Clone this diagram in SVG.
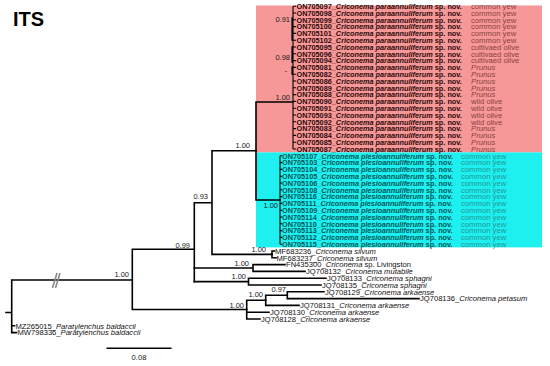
<svg xmlns="http://www.w3.org/2000/svg" width="550" height="366" viewBox="0 0 550 366">
<style>
.bg{fill:#ffffff}
.br{fill:none;stroke:#000;stroke-width:1.6;stroke-linecap:square}
.thin{fill:none;stroke:#000;stroke-width:1.1}
.brk{fill:none;stroke:#8a8a8a;stroke-width:1.6}
.pk{font-family:"Liberation Sans",Arial,sans-serif;font-weight:bold;font-size:7.3px;fill:#2e0a0a}
.pkh{font-family:"Liberation Sans",Arial,sans-serif;font-size:7.7px;fill:#8a4040}
.cy{font-family:"Liberation Sans",Arial,sans-serif;font-weight:bold;font-size:7.3px;fill:#005656}
.cyh{font-family:"Liberation Sans",Arial,sans-serif;font-size:7.7px;fill:#229696}
.lf{font-family:"Liberation Sans",Arial,sans-serif;font-size:7.6px;fill:#111}
.it{font-style:italic}
.sup{font-family:"Liberation Sans",Arial,sans-serif;font-size:7.5px;fill:#222;text-anchor:end}
.ttl{font-family:"Liberation Sans",Arial,sans-serif;font-weight:bold;font-size:20px;fill:#000}
</style>
<rect class="bg" x="0" y="0" width="550" height="366"/>
<text class="ttl" x="13" y="26">ITS</text>

<g id="clade-boxes">
<rect x="256" y="5.5" width="286" height="147" fill="#f79898"/>
<rect x="256" y="152.4" width="286" height="95" fill="#1ef0f0"/>
</g>

<g id="connectors">
<path class="br" d="M6,312.5H11.7 M11.7,280V332.6 M11.7,325.8H14.5 M11.7,332.6H16.5 M11.7,280H132.3"/>
<path class="brk" d="M52.5,288L57,273 M55.5,288L60,273"/>
<path class="br" d="M132.3,249.3V309.5 M132.3,249.3H194.3 M132.3,309.5H246.7"/>
<path class="br" d="M194.3,202.7V281.6 M194.3,202.7H212 M212,150.7V254.4 M212,150.7H256 M212,254.4H272"/>
<path class="br" d="M272,251V257.8 M272,251H274.5 M272,257.8H276"/>
<path class="br" d="M256,102V200 M256,102H293 M256,200H280"/>
<path class="thin" d="M293,6.2V149 M280,155.8V244.2"/>
<path class="br" d="M292.2,18V40 M292.2,47V62 M292.2,67V74"/>
<path class="thin" d="M293,6.2H296 M293,13H296 M293,19.8H296 M293,26.6H296 M293,33.4H296 M293,40.2H296 M293,47H296 M293,53.8H296 M293,60.6H296 M293,67.4H296 M293,74.2H296 M293,81H296 M293,87.8H296 M293,94.6H296 M293,101.4H296 M293,108.2H296 M293,115H296 M293,121.8H296 M293,128.6H296 M293,135.4H296 M293,142.2H296 M293,149H296"/>
<path class="thin" d="M280,155.8H282 M280,162.6H282 M280,169.4H282 M280,176.2H282 M280,183H282 M280,189.8H282 M280,196.6H282 M280,203.4H282 M280,210.2H282 M280,217H282 M280,223.8H282 M280,230.6H282 M280,237.4H282 M280,244.2H282"/>
<path class="br" d="M194.3,268H253 M253,264.6V271.4 M253,264.6H285 M253,271.4H305"/>
<path class="br" d="M194.3,281.6H248.5 M248.5,278.2V285 M248.5,278.2H326 M248.5,285H321"/>
<path class="br" d="M246.7,300.3V319 M246.7,300.3H265.7 M246.7,312.2H269 M246.7,319H260"/>
<path class="br" d="M265.7,295.2V305.4 M265.7,295.2H287.3 M265.7,305.4H299"/>
<path class="br" d="M287.3,291.8V298.6 M287.3,291.8H324 M287.3,298.6H419"/>
<path class="br" d="M107.3,348.3H170.7"/>
</g>

<g id="support-values">
<text class="sup" x="290" y="21.5">0.91</text>
<text class="sup" x="290" y="60">0.98</text>
<text class="sup" x="287" y="73">-</text>
<text class="sup" x="290" y="100.4">1.00</text>
<text class="sup" x="250" y="148.4">1.00</text>
<text class="sup" x="278" y="208.4">1.00</text>
<text class="sup" x="208" y="199.4">0.93</text>
<text class="sup" x="190" y="247.7">0.99</text>
<text class="sup" x="266" y="252">1.00</text>
<text class="sup" x="249" y="266">1.00</text>
<text class="sup" x="246" y="279.4">1.00</text>
<text class="sup" x="286" y="292">0.97</text>
<text class="sup" x="263" y="297">1.00</text>
<text class="sup" x="244" y="307.7">1.00</text>
<text class="sup" x="129" y="277">1.00</text>
</g>

<g id="clade-paraannuliferum">
<g id="ON705097"><text class="pk" x="296.5" y="8.9">ON705097_<tspan class="it">Criconema paraannuliferum</tspan> sp. nov.</text><text class="pkh" x="471" y="8.9">common yew</text></g>
<g id="ON705098"><text class="pk" x="296.5" y="15.7">ON705098_<tspan class="it">Criconema paraannuliferum</tspan> sp. nov.</text><text class="pkh" x="471" y="15.7">common yew</text></g>
<g id="ON705099"><text class="pk" x="296.5" y="22.5">ON705099_<tspan class="it">Criconema paraannuliferum</tspan> sp. nov.</text><text class="pkh" x="471" y="22.5">common yew</text></g>
<g id="ON705100"><text class="pk" x="296.5" y="29.3">ON705100_<tspan class="it">Criconema paraannuliferum</tspan> sp. nov.</text><text class="pkh" x="471" y="29.3">common yew</text></g>
<g id="ON705101"><text class="pk" x="296.5" y="36.1">ON705101_<tspan class="it">Criconema paraannuliferum</tspan> sp. nov.</text><text class="pkh" x="471" y="36.1">common yew</text></g>
<g id="ON705102"><text class="pk" x="296.5" y="42.9">ON705102_<tspan class="it">Criconema paraannuliferum</tspan> sp. nov.</text><text class="pkh" x="471" y="42.9">common yew</text></g>
<g id="ON705095"><text class="pk" x="296.5" y="49.7">ON705095_<tspan class="it">Criconema paraannuliferum</tspan> sp. nov.</text><text class="pkh" x="471" y="49.7">cultivaed olive</text></g>
<g id="ON705096"><text class="pk" x="296.5" y="56.5">ON705096_<tspan class="it">Criconema paraannuliferum</tspan> sp. nov.</text><text class="pkh" x="471" y="56.5">cultivaed olive</text></g>
<g id="ON705094"><text class="pk" x="296.5" y="63.3">ON705094_<tspan class="it">Criconema paraannuliferum</tspan> sp. nov.</text><text class="pkh" x="471" y="63.3">cultivaed olive</text></g>
<g id="ON705081"><text class="pk" x="296.5" y="70.1">ON705081_<tspan class="it">Criconema paraannuliferum</tspan> sp. nov.</text><text class="pkh it" x="471" y="70.1">Prunus</text></g>
<g id="ON705082"><text class="pk" x="296.5" y="76.9">ON705082_<tspan class="it">Criconema paraannuliferum</tspan> sp. nov.</text><text class="pkh it" x="471" y="76.9">Prunus</text></g>
<g id="ON705086"><text class="pk" x="296.5" y="83.7">ON705086_<tspan class="it">Criconema paraannuliferum</tspan> sp. nov.</text><text class="pkh it" x="471" y="83.7">Prunus</text></g>
<g id="ON705089"><text class="pk" x="296.5" y="90.5">ON705089_<tspan class="it">Criconema paraannuliferum</tspan> sp. nov.</text><text class="pkh it" x="471" y="90.5">Prunus</text></g>
<g id="ON705088"><text class="pk" x="296.5" y="97.3">ON705088_<tspan class="it">Criconema paraannuliferum</tspan> sp. nov.</text><text class="pkh it" x="471" y="97.3">Prunus</text></g>
<g id="ON705090"><text class="pk" x="296.5" y="104.1">ON705090_<tspan class="it">Criconema paraannuliferum</tspan> sp. nov.</text><text class="pkh" x="471" y="104.1">wild olive</text></g>
<g id="ON705091"><text class="pk" x="296.5" y="110.9">ON705091_<tspan class="it">Criconema paraannuliferum</tspan> sp. nov.</text><text class="pkh" x="471" y="110.9">wild olive</text></g>
<g id="ON705093"><text class="pk" x="296.5" y="117.7">ON705093_<tspan class="it">Criconema paraannuliferum</tspan> sp. nov.</text><text class="pkh" x="471" y="117.7">wild olive</text></g>
<g id="ON705092"><text class="pk" x="296.5" y="124.5">ON705092_<tspan class="it">Criconema paraannuliferum</tspan> sp. nov.</text><text class="pkh" x="471" y="124.5">wild olive</text></g>
<g id="ON705083"><text class="pk" x="296.5" y="131.3">ON705083_<tspan class="it">Criconema paraannuliferum</tspan> sp. nov.</text><text class="pkh it" x="471" y="131.3">Prunus</text></g>
<g id="ON705084"><text class="pk" x="296.5" y="138.1">ON705084_<tspan class="it">Criconema paraannuliferum</tspan> sp. nov.</text><text class="pkh it" x="471" y="138.1">Prunus</text></g>
<g id="ON705085"><text class="pk" x="296.5" y="144.9">ON705085_<tspan class="it">Criconema paraannuliferum</tspan> sp. nov.</text><text class="pkh it" x="471" y="144.9">Prunus</text></g>
<g id="ON705087"><text class="pk" x="296.5" y="151.7">ON705087_<tspan class="it">Criconema paraannuliferum</tspan> sp. nov.</text><text class="pkh it" x="471" y="151.7">Prunus</text></g>
</g>

<g id="clade-plesioannuliferum">
<g id="ON705107"><text class="cy" x="282" y="158.5">ON705107_<tspan class="it">Criconema plesioannuliferum</tspan> sp. nov.</text><text class="cyh" x="461" y="158.5">common yew</text></g>
<g id="ON705103"><text class="cy" x="282" y="165.3">ON705103_<tspan class="it">Criconema plesioannuliferum</tspan> sp. nov.</text><text class="cyh" x="461" y="165.3">common yew</text></g>
<g id="ON705104"><text class="cy" x="282" y="172.1">ON705104_<tspan class="it">Criconema plesioannuliferum</tspan> sp. nov.</text><text class="cyh" x="461" y="172.1">common yew</text></g>
<g id="ON705105"><text class="cy" x="282" y="178.9">ON705105_<tspan class="it">Criconema plesioannuliferum</tspan> sp. nov.</text><text class="cyh" x="461" y="178.9">common yew</text></g>
<g id="ON705106"><text class="cy" x="282" y="185.7">ON705106_<tspan class="it">Criconema plesioannuliferum</tspan> sp. nov.</text><text class="cyh" x="461" y="185.7">common yew</text></g>
<g id="ON705108"><text class="cy" x="282" y="192.5">ON705108_<tspan class="it">Criconema plesioannuliferum</tspan> sp. nov.</text><text class="cyh" x="461" y="192.5">common yew</text></g>
<g id="ON705116"><text class="cy" x="282" y="199.3">ON705116_<tspan class="it">Criconema plesioannuliferum</tspan> sp. nov.</text><text class="cyh" x="461" y="199.3">common yew</text></g>
<g id="ON705111"><text class="cy" x="282" y="206.1">ON705111_<tspan class="it">Criconema plesioannuliferum</tspan> sp. nov.</text><text class="cyh" x="461" y="206.1">common yew</text></g>
<g id="ON705109"><text class="cy" x="282" y="212.9">ON705109_<tspan class="it">Criconema plesioannuliferum</tspan> sp. nov.</text><text class="cyh" x="461" y="212.9">common yew</text></g>
<g id="ON705114"><text class="cy" x="282" y="219.7">ON705114_<tspan class="it">Criconema plesioannuliferum</tspan> sp. nov.</text><text class="cyh" x="461" y="219.7">common yew</text></g>
<g id="ON705110"><text class="cy" x="282" y="226.5">ON705110_<tspan class="it">Criconema plesioannuliferum</tspan> sp. nov.</text><text class="cyh" x="461" y="226.5">common yew</text></g>
<g id="ON705113"><text class="cy" x="282" y="233.3">ON705113_<tspan class="it">Criconema plesioannuliferum</tspan> sp. nov.</text><text class="cyh" x="461" y="233.3">common yew</text></g>
<g id="ON705112"><text class="cy" x="282" y="240.1">ON705112_<tspan class="it">Criconema plesioannuliferum</tspan> sp. nov.</text><text class="cyh" x="461" y="240.1">common yew</text></g>
<g id="ON705115"><text class="cy" x="282" y="246.9">ON705115_<tspan class="it">Criconema plesioannuliferum</tspan> sp. nov.</text><text class="cyh" x="461" y="246.9">common yew</text></g>
</g>

<g id="other-taxa">
<g id="MF683236"><text class="lf" x="275" y="253.7">MF683236_<tspan class="it">Criconema silvum</tspan></text></g>
<g id="MF683237"><text class="lf" x="276.5" y="260.5">MF683237_<tspan class="it">Criconema silvum</tspan></text></g>
<g id="FN435300"><text class="lf" x="286" y="267.3">FN435300_<tspan class="it">Criconema</tspan> sp. Livingston</text></g>
<g id="JQ708132"><text class="lf" x="306" y="274.1">JQ708132_<tspan class="it">Criconema mutabile</tspan></text></g>
<g id="JQ708133"><text class="lf" x="327" y="280.9">JQ708133_<tspan class="it">Criconema sphagni</tspan></text></g>
<g id="JQ708135"><text class="lf" x="322" y="287.7">JQ708135_<tspan class="it">Criconema sphagni</tspan></text></g>
<g id="JQ708129"><text class="lf" x="325" y="294.5">JQ708129_<tspan class="it">Criconema arkaense</tspan></text></g>
<g id="JQ708136"><text class="lf" x="420" y="301.3">JQ708136_<tspan class="it">Criconema petasum</tspan></text></g>
<g id="JQ708131"><text class="lf" x="300" y="308.1">JQ708131_<tspan class="it">Criconema arkaense</tspan></text></g>
<g id="JQ708130"><text class="lf" x="270" y="314.9">JQ708130_<tspan class="it">Criconema arkaense</tspan></text></g>
<g id="JQ708128"><text class="lf" x="261" y="321.7">JQ708128_<tspan class="it">Criconema arkaense</tspan></text></g>
<g id="MZ265015"><text class="lf" x="15.5" y="328.5">MZ265015_<tspan class="it">Paratylenchus baldaccii</tspan></text></g>
<g id="MW798336"><text class="lf" x="17.5" y="335.3">MW798336_<tspan class="it">Paratylenchus baldaccii</tspan></text></g>
</g>

<g id="scale-bar">
<text class="lf" x="139" y="360" text-anchor="middle">0.08</text>
</g>
</svg>
